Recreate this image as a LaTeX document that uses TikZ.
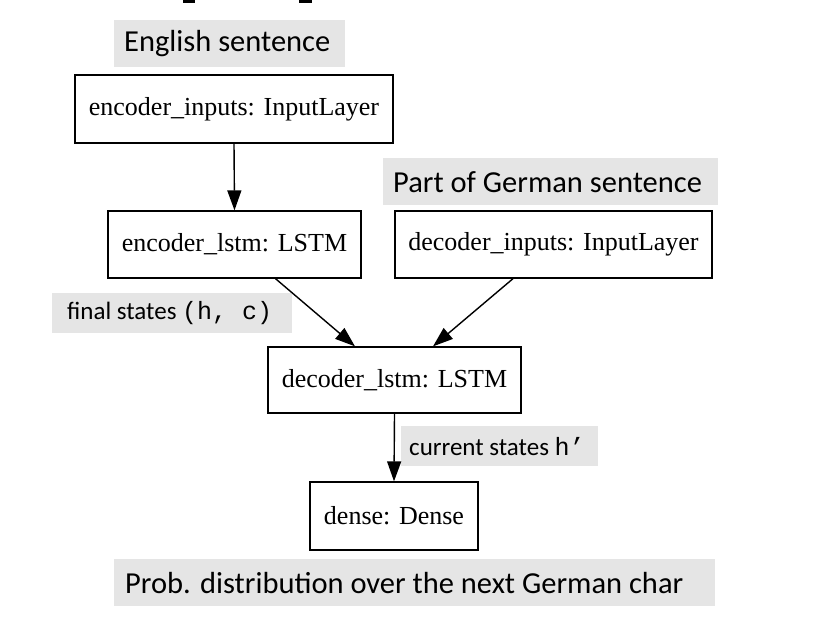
\documentclass[tikz,border=0pt]{standalone}
\usepackage{fontspec}
\setmainfont{Liberation Serif}
\newfontfamily\lblfont{Carlito}
\newfontfamily\lblmono{Liberation Mono}
\usetikzlibrary{arrows.meta}
\definecolor{lblgray}{RGB}{229,229,229}
\tikzset{
  box/.style={draw=black, line width=1.3pt, inner sep=0pt, fill=white,
    font=\fontsize{26}{30}\selectfont},
  biglbl/.style={fill=lblgray, inner ysep=0pt, anchor=north west,
    font=\lblfont\fontsize{30.5}{34}\selectfont},
  smalllbl/.style={fill=lblgray, inner ysep=0pt, anchor=north west,
    font=\lblfont\fontsize{25}{29}\selectfont},
  arr/.style={line width=1.4pt, -{Triangle[length=20pt,width=14pt]}}
}
\newcommand{\lbltext}[2]{\makebox[#1][l]{\raisebox{-1pt}{#2}}}
\begin{document}
\begin{tikzpicture}[x=1pt,y=-1pt]
\useasboundingbox (0,0) rectangle (821,621);
% cropped fragments at the very top
\fill (183,0) rectangle (195,3);
\fill (299,0) rectangle (312,3);

% gray labels
\node[biglbl, inner xsep=10pt, minimum height=47pt] (eng) at (114,20) {\lbltext{211pt}{English sentence}};
\node[biglbl, inner xsep=10pt, minimum height=47pt] (ger) at (383,158) {\lbltext{315pt}{Part of German sentence}};
\node[smalllbl, inner xsep=15pt, minimum height=40pt] (fin) at (52,293) {\lbltext{210pt}{final states {\lblmono(h, c)}}};
\node[smalllbl, inner xsep=8pt, minimum height=40pt] (cur) at (401,426) {\lbltext{181pt}{current states {\lblmono h’}}};
\node[biglbl, inner xsep=11pt, minimum height=47pt] (prob) at (114,559) {\lbltext{579pt}{Prob. distribution over the next German char}};

% boxes
\node[box, minimum width=318pt, minimum height=68pt] (ei) at (234,109) {encoder\_inputs: InputLayer};
\node[box, minimum width=253pt, minimum height=67pt] (el) at (234.5,244.5) {encoder\_lstm: LSTM};
\node[box, minimum width=317pt, minimum height=67pt] (di) at (553.5,244.5) {decoder\_inputs: InputLayer};
\node[box, minimum width=253pt, minimum height=66pt] (dl) at (394.5,380) {decoder\_lstm: LSTM};
\node[box, minimum width=168pt, minimum height=68pt] (dn) at (394,516) {dense: Dense};

% connectors
\draw[arr] (ei.south) -- (el.north);
\draw[arr] ([xshift=41pt]el.south) -- ([xshift=-39.5pt]dl.north);
\draw[arr] ([xshift=-40.5pt]di.south) -- ([xshift=38.5pt]dl.north);
\draw[arr] (dl.south) -- (dn.north);
\end{tikzpicture}
\end{document}
